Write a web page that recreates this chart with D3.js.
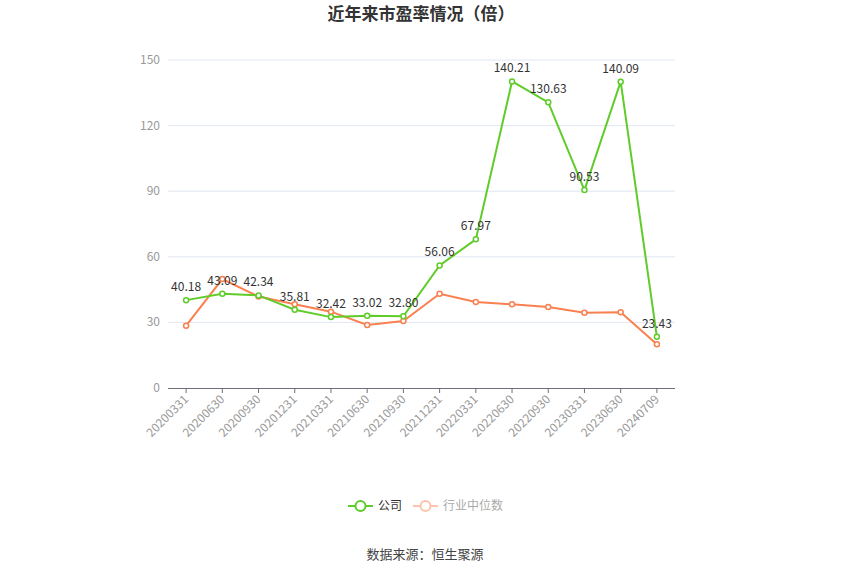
<!DOCTYPE html>
<html><head><meta charset="utf-8">
<script src="https://cdn.jsdelivr.net/npm/d3@7"></script>
<style>body{margin:0;background:#fff;font-family:"Noto Sans CJK SC","Noto Sans",sans-serif;}</style>
</head><body><svg id="c" width="850" height="575"></svg>
<script>
const categories = ["20200331","20200630","20200930","20201231","20210331","20210630","20210930","20211231","20220331","20220630","20220930","20230331","20230630","20240709"];
const companyPE = [40.18,43.09,42.34,35.81,32.42,33.02,32.80,56.06,67.97,140.21,130.63,90.53,140.09,23.43];
const industryPE = [28.5,49.8,41.8,38.3,34.9,28.8,30.6,43.1,39.3,38.3,37.0,34.4,34.6,20.0];
const yTicks = [0,30,60,90,120,150];

const svg = d3.select("#c");
const gLeft = 168, gRight = 675, gTop = 60, gBottom = 388;
const x = d3.scaleBand().domain(categories).range([gLeft, gRight]);
const y = d3.scaleLinear().domain([0,150]).range([gBottom, gTop]);
const cx = d => x(d) + x.bandwidth()/2;

svg.append("text").attr("x",421).attr("y",20).attr("text-anchor","middle")
  .attr("font-size",17).attr("font-weight","bold").attr("fill","#333").text("近年来市盈率情况（倍）");

// grid
svg.append("g").selectAll("line").data(yTicks.filter(t=>t>0)).join("line")
  .attr("x1",gLeft).attr("x2",gRight).attr("y1",d=>y(d)).attr("y2",d=>y(d))
  .attr("stroke","#e0e6f1").attr("stroke-width",1);
svg.append("g").selectAll("text").data(yTicks).join("text")
  .attr("x",160).attr("y",d=>y(d)+4).attr("text-anchor","end")
  .attr("font-size",12).attr("fill","#999").text(d=>d);

// x axis
svg.append("line").attr("x1",gLeft).attr("x2",gRight).attr("y1",gBottom+0.5).attr("y2",gBottom+0.5).attr("stroke","#6e7079");
svg.append("g").selectAll("line").data(categories).join("line")
  .attr("x1",d=>cx(d)).attr("x2",d=>cx(d)).attr("y1",gBottom).attr("y2",gBottom+5).attr("stroke","#6e7079");
svg.append("g").selectAll("text").data(categories).join("text")
  .attr("transform",d=>`translate(${cx(d)+3},${gBottom+12}) rotate(-45)`)
  .attr("text-anchor","end").attr("font-size",12).attr("fill","#999").text(d=>d);

function series(vals,color){
  const line = d3.line().x((d,i)=>cx(categories[i])).y(d=>y(d));
  svg.append("path").datum(vals).attr("d",line).attr("fill","none").attr("stroke",color).attr("stroke-width",2);
  svg.append("g").selectAll("circle").data(vals).join("circle")
    .attr("cx",(d,i)=>cx(categories[i])).attr("cy",d=>y(d)).attr("r",2.5)
    .attr("fill","#fff").attr("stroke",color).attr("stroke-width",1.5);
}
series(industryPE,"#fa8050");
series(companyPE,"#5fcc29");

svg.append("g").selectAll("text").data(companyPE).join("text")
  .attr("x",(d,i)=>cx(categories[i])).attr("y",d=>y(d)-9).attr("text-anchor","middle")
  .attr("font-size",12).attr("fill","#333").text(d=>d.toFixed(2));

// legend
const lg = svg.append("g");
lg.append("line").attr("x1",348).attr("x2",373).attr("y1",506).attr("y2",506).attr("stroke","#5fcc29").attr("stroke-width",2);
lg.append("circle").attr("cx",360.5).attr("cy",506).attr("r",5).attr("fill","#fff").attr("stroke","#5fcc29").attr("stroke-width",2);
lg.append("text").attr("x",378).attr("y",510).attr("font-size",12).attr("fill","#333").text("公司");
lg.append("line").attr("x1",413).attr("x2",438).attr("y1",506).attr("y2",506).attr("stroke","#fdc4ad").attr("stroke-width",2);
lg.append("circle").attr("cx",425.5).attr("cy",506).attr("r",5).attr("fill","#fff").attr("stroke","#fdc4ad").attr("stroke-width",2);
lg.append("text").attr("x",443).attr("y",510).attr("font-size",12).attr("fill","#aaa").text("行业中位数");

svg.append("text").attr("x",425).attr("y",559).attr("text-anchor","middle")
  .attr("font-size",13).attr("fill","#444").text("数据来源：恒生聚源");
</script></body></html>
